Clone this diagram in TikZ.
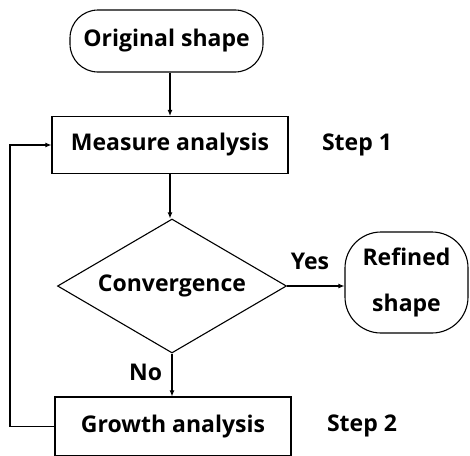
\documentclass[tikz,border=0pt]{standalone}
\usepackage{fontspec}
\setmainfont{Open Sans}
\usetikzlibrary{shapes.geometric,arrows.meta}

\begin{document}
\begin{tikzpicture}[x=1pt, y=-1pt, line width=1.1pt,
    font=\bfseries\fontsize{23}{28}\selectfont,
    term/.style={draw, rounded corners=28pt, inner sep=0pt},
    procbox/.style={draw, minimum width=236pt, minimum height=57pt, inner sep=0pt},
    decide/.style={draw, diamond, minimum width=229pt, minimum height=134pt, inner sep=0pt},
    arr/.style={-{Latex[length=6pt,width=5pt]}}]
                \useasboundingbox (0,0) rectangle (470,455);
                \clip (0,0) rectangle (470,455);

                \node [term, minimum width=193pt, minimum height=62pt] (orig) at (166.5,41) {Original shape};
                \node [procbox] (measure) at (170,145) {Measure analysis};
                \node (step1) at (357,145) {Step 1};

                \node [decide, label=center:Convergence] (conv) at (172,286) {};
                \node [term, rounded corners=36pt, minimum width=123pt, minimum height=101pt, align=center] (refined)
                    at (406.5,282.5) {Refined\\[18pt]shape};

                \node [procbox, minimum height=59pt] (growth) at (173,426.5) {Growth analysis};
                \node (step2) at (362,426) {Step 2};

                \coordinate (back) at (10,0);

                \draw [arr] (measure.north |- orig.south) -- (measure.north);
                \draw [arr] (measure.south) -- (measure.south |- conv.north);
                \draw [arr] (conv.east) -- (conv.east -| refined.west)
                    node [pos=0.4, above=12pt] (yes) {Yes};
                \draw [arr] (conv.south) -- (conv.south |- growth.north)
                    node [pos=0.45, left=6pt] (no) {No};
                \draw [arr] (growth.west) -- (growth.west -| back) |- (measure.west);
            \end{tikzpicture}
\end{document}
